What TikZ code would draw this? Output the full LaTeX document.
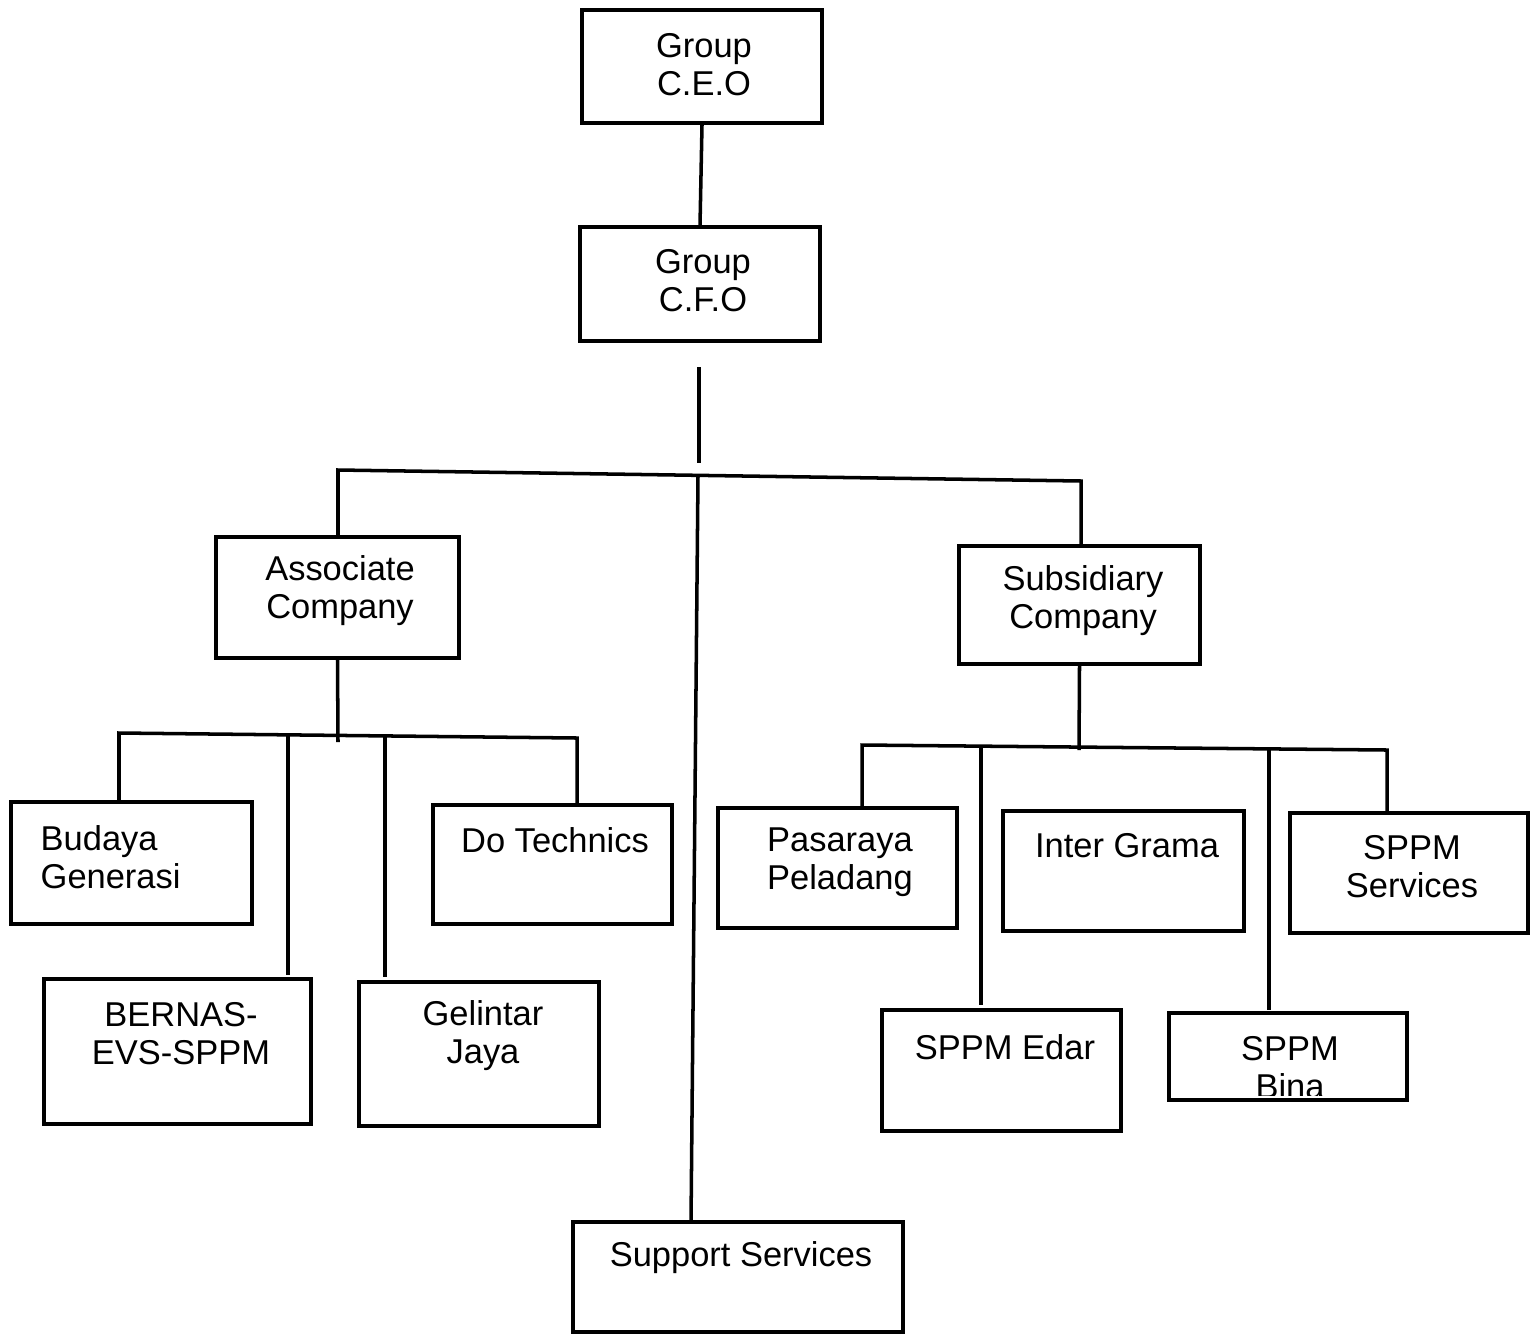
\documentclass[tikz,border=0pt]{standalone}
\usepackage{fontspec}
\setmainfont{Liberation Sans}
\usetikzlibrary{fit}
\begin{document}
\begin{tikzpicture}[x=0.01cm,y=-0.01cm,
  box/.style={draw, line width=1pt, inner sep=0pt},
  txt/.style={align=center, font=\fontsize{9.8}{10.8}\selectfont, inner sep=0pt},
  wire/.style={line width=1pt}]
\useasboundingbox (0,0) rectangle (1531,1339);

% ---- boxes
\node[box, fit={(582,10) (822,123)}]   (ceo) {};
\node[box, fit={(580,227) (820,341)}]  (cfo) {};
\node[box, fit={(216,537) (459,658)}]  (asc) {};
\node[box, fit={(959,546) (1200,664)}] (sub) {};
\node[box, fit={(11,802) (252,924)}]   (budaya) {};
\node[box, fit={(433,805) (672,924)}]  (dotech) {};
\node[box, fit={(44,979) (311,1124)}]  (bernas) {};
\node[box, fit={(359,982) (599,1126)}] (gelintar) {};
\node[box, fit={(718,808) (957,928)}]  (pasaraya) {};
\node[box, fit={(1003,811) (1244,931)}] (inter) {};
\node[box, fit={(1290,813) (1528,933)}] (sppmsv) {};
\node[box, fit={(882,1010) (1121,1131)}] (edar) {};
\node[box, fit={(1169,1013) (1407,1100)}] (bina) {};
\node[box, fit={(573,1222) (903,1332)}] (ss) {};

% ---- labels
\node[txt] (ceoT) at (704,65) {Group\\C.E.O};
\node[txt] (cfoT) at (703,281) {Group\\C.F.O};
\node[txt] (ascT) at (340,591) {Associate\\Company};
\node[txt] (subT) at (1083,601) {Subsidiary\\Company};
\node[txt, anchor=west, align=left] (budayaT) at (40,857) {Budaya\\Generasi};
\node[txt] (dotechT) at (555,840) {Do Technics};
\node[txt] (bernasT) at (181,1034) {BERNAS-\\EVS-SPPM};
\node[txt] (gelintarT) at (483,1036) {Gelintar\\Jaya};
\node[txt, align=left] (pasarayaT) at (840,862) {Pasaraya\\Peladang};
\node[txt] (interT) at (1127,846) {Inter Grama};
\node[txt] (sppmsvT) at (1412,867) {SPPM\\Services};
\node[txt] (edarT) at (1005,1047) {SPPM Edar};
\begin{scope}
  \clip (1169,1013) rectangle (1407,1095);
  \node[txt] (binaT) at (1290,1068) {SPPM\\Bina};
\end{scope}
\node[txt] (ssT) at (741,1258) {Support Services};

% ---- top of the tree
\draw[wire] (ceo.south) -- (cfo.north);
\coordinate (trunkA) at (699,367);
\coordinate (trunkB) at (699,463);
\draw[wire] (trunkA) -- (trunkB);

\coordinate (barL) at (338,470);
\coordinate (barR) at (1081,481);
\coordinate (barM) at (698,475);
\draw[wire] (barL |- asc.north) -- (barL) -- (barR) -- (barR |- sub.north);
\coordinate (ssTop) at (691,1222);
\draw[wire] (barM) -- (ssTop);

% ---- associate companies
\coordinate (aL) at (119,733);
\coordinate (aR) at (577,738);
\coordinate (aM) at (338,742);
\coordinate (a2) at (288,735);
\coordinate (a3) at (385,736);
\draw[wire] (asc.south) -- (aM);
\draw[wire] (aL |- budaya.north) -- (aL) -- (aR) -- (aR |- dotech.north);
\draw[wire] (a2) -- (288,975);
\draw[wire] (a3) -- (385,977);

% ---- subsidiary companies
\coordinate (sL) at (862,745);
\coordinate (sR) at (1387,750);
\coordinate (sM) at (1079,750);
\coordinate (s2) at (981,746);
\coordinate (s3) at (1269,749);
\draw[wire] (sub.south) -- (sM);
\draw[wire] (sL |- pasaraya.north) -- (sL) -- (sR) -- (sR |- sppmsv.north);
\draw[wire] (s2) -- (981,1005);
\draw[wire] (s3) -- (1269,1010);
\end{tikzpicture}
\end{document}
